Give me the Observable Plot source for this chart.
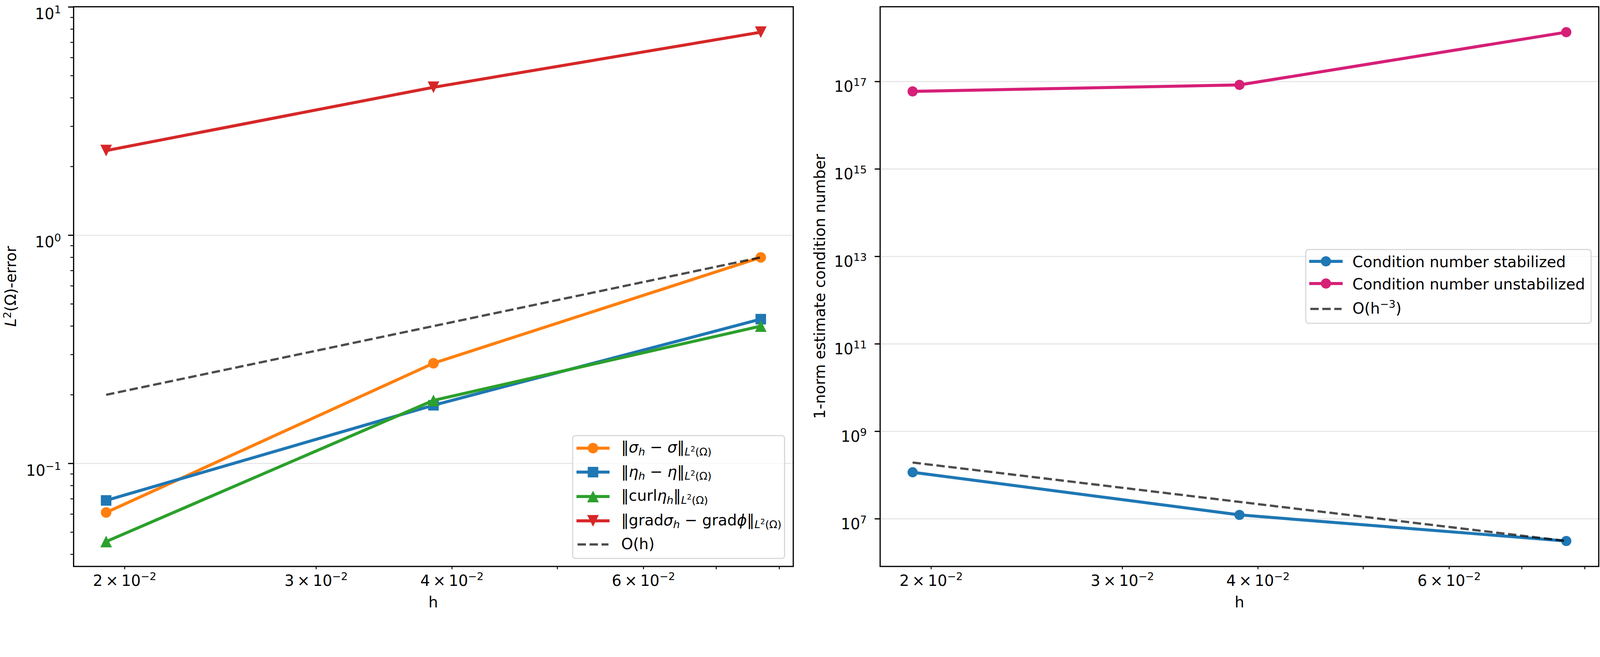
<!DOCTYPE html>
<html><head><meta charset="utf-8">
<script src="https://cdn.jsdelivr.net/npm/d3@7"></script>
<script src="https://cdn.jsdelivr.net/npm/@observablehq/plot@0.6"></script>
<style>
html,body{margin:0;padding:0;background:#fff;overflow:hidden;}
#wrap{position:absolute;left:0;top:0;width:4402px;height:1682px;font-family:"DejaVu Sans";font-size:41.7px;color:#000;overflow:hidden;transform-origin:0 0;}
.plot{position:absolute;top:0;}
.lab{position:absolute;white-space:nowrap;line-height:1;}
.legend{position:absolute;background:rgba(255,255,255,0.8);border:3.5px solid #d6d6d6;border-radius:9px;box-sizing:border-box;}
.txt{position:absolute;white-space:nowrap;line-height:1;}
.sw{position:absolute;overflow:visible;}
i{font-style:italic;}
.sb{font-size:70%;position:relative;top:8px;}
.sp{font-size:70%;position:relative;top:-11px;}
.sp2{font-size:70%;position:relative;top:-16px;}
</style></head>
<body><div id="wrap"></div>
<script>
// ---- data ----
const h = [0.01923, 0.03846, 0.07692];
const errSigma = [0.061, 0.275, 0.80];
const errEta = [0.0689, 0.180, 0.429];
const errCurl = [0.0455, 0.189, 0.400];
const errGrad = [2.35, 4.45, 7.76];
const refOh = [0.200, 0.400, 0.800];
const condStab = [1.16e8, 1.23e7, 3.11e6];
const condUnstab = [5.97e16, 8.4e16, 1.35e18];
const refOh3 = [1.94e8, 2.44e7, 3.11e6];

const xTicks = [0.02, 0.03, 0.04, 0.05, 0.06, 0.07, 0.08];
const xLabeled = [0.02, 0.03, 0.04, 0.06];
const xLabels = ["2\u2009×\u200910⁻²", "3\u2009×\u200910⁻²", "4\u2009×\u200910⁻²", "6\u2009×\u200910⁻²"];
const leftMajor = [0.1, 1, 10];
const leftMajorLabels = ["10⁻¹", "10⁰", "10¹"];
const leftMinor = [0.04,0.05,0.06,0.07,0.08,0.09,0.2,0.3,0.4,0.5,0.6,0.7,0.8,0.9,2,3,4,5,6,7,8,9];
const rightMajor = [1e7, 1e9, 1e11, 1e13, 1e15, 1e17];
const rightMajorLabels = ["10⁷", "10⁹", "10¹¹", "10¹³", "10¹⁵", "10¹⁷"];

const C = {orange:"#ff7f0e", blue:"#1f77b4", green:"#2ca02c", red:"#d62728", pink:"#d61f77"};

// ---- symbols ----
const sq = {draw(ctx, size){const r=Math.sqrt(size/Math.PI); ctx.rect(-r,-r,2*r,2*r);}};
const triUp = {draw(ctx, size){const r=Math.sqrt(size/Math.PI); ctx.moveTo(0,-r); ctx.lineTo(r,r); ctx.lineTo(-r,r); ctx.closePath();}};
const triDown = {draw(ctx, size){const r=Math.sqrt(size/Math.PI); ctx.moveTo(0,r); ctx.lineTo(r,-r); ctx.lineTo(-r,-r); ctx.closePath();}};

const FS = 41.7;
const style = {fontFamily:"DejaVu Sans", fontSize: FS + "px", background:"transparent", color:"black", overflow:"visible"};
const xDomain = [0.01795, 0.0824];
const fmt = (ticks, labels) => d => { const i = ticks.indexOf(d); return i < 0 ? "" : labels[i]; };

function rowsOf(values){ return h.map((x,i)=>({h:x, v:values[i]})); }
function series(values, color, symbol, r){
  const rows = rowsOf(values);
  return [
    Plot.line(rows, {x:"h", y:"v", stroke:color, strokeWidth:8.3, strokeLinecap:"square", strokeLinejoin:"round"}),
    Plot.dot(rows, {x:"h", y:"v", fill:color, stroke:"none", symbol, r})
  ];
}
function dashed(values){
  return Plot.line(rowsOf(values), {x:"h", y:"v", stroke:"black", strokeOpacity:0.7, strokeWidth:6.25, strokeDasharray:"23,10", strokeLinecap:"butt"});
}
function xAxis(){
  return Plot.axisX(xTicks, {tickSize:8.3, strokeWidth:2.5, tickPadding:16, tickFormat: fmt(xLabeled, xLabels), label:null, fontSize:FS});
}

const left = Plot.plot({
  width:2200, height:1682, marginLeft:202, marginRight:18, marginTop:18, marginBottom:124,
  x:{type:"log", domain:xDomain},
  y:{type:"log", domain:[0.0354, 10.03]},
  style,
  marks:[
    Plot.gridY(leftMajor, {stroke:"#e6e6e6", strokeOpacity:1, strokeWidth:3}),
    ...series(errSigma, C.orange, "circle", 14.5),
    ...series(errEta, C.blue, sq, 14.5),
    ...series(errCurl, C.green, triUp, 16),
    ...series(errGrad, C.red, triDown, 16),
    dashed(refOh),
    Plot.frame({stroke:"black", strokeWidth:3.3}),
    xAxis(),
    Plot.axisY(leftMajor, {tickSize:14.6, strokeWidth:3.3, tickPadding:20, tickFormat: fmt(leftMajor, leftMajorLabels), label:null, fontSize:FS}),
    Plot.axisY(leftMinor, {tickSize:8.3, strokeWidth:2.5, tickFormat: () => "", label:null})
  ]
});
left.classList.add("plot"); left.style.left = "0px";

const right = Plot.plot({
  width:2202, height:1682, marginLeft:221, marginRight:4, marginTop:18, marginBottom:124,
  x:{type:"log", domain:xDomain},
  y:{type:"log", domain:[8.147e5, 5.157e18]},
  style,
  marks:[
    Plot.gridY(rightMajor, {stroke:"#e6e6e6", strokeOpacity:1, strokeWidth:3}),
    ...series(condStab, C.blue, "circle", 14),
    ...series(condUnstab, C.pink, "circle", 14),
    dashed(refOh3),
    Plot.frame({stroke:"black", strokeWidth:3.3}),
    xAxis(),
    Plot.axisY(rightMajor, {tickSize:14.6, strokeWidth:3.3, tickPadding:22, tickFormat: fmt(rightMajor, rightMajorLabels), label:null, fontSize:FS})
  ]
});
right.classList.add("plot"); right.style.left = "2200px";

// turn Unicode superscripts in tick labels into real superscript tspans (matplotlib mathtext look)
const SUP = {"⁰":"0","¹":"1","²":"2","³":"3","⁴":"4","⁵":"5","⁶":"6","⁷":"7","⁸":"8","⁹":"9","⁻":"−"};
function texify(svg, yBaselineDy){
  svg.querySelectorAll('g[aria-label$="tick label"] text').forEach(t => {
    const s = t.textContent;
    const k = [...s].findIndex(c => c in SUP);
    if (k >= 0) {
      const chars = [...s];
      const main = chars.slice(0, k).join("");
      const sup = chars.slice(k).map(c => SUP[c] ?? c).join("");
      t.textContent = main;
      const ts = document.createElementNS("http://www.w3.org/2000/svg", "tspan");
      ts.setAttribute("dy", "-16");
      ts.setAttribute("font-size", (FS * 0.7).toFixed(1));
      ts.textContent = sup;
      t.appendChild(ts);
    }
    const g = t.closest("g");
    if (g && g.getAttribute("aria-label") === "y-axis tick label") t.setAttribute("dy", yBaselineDy);
  });
}
texify(left, 20);
texify(right, 15);

const wrap = document.getElementById("wrap");
wrap.appendChild(left);
wrap.appendChild(right);

function addDiv(cls, html, css){
  const d = document.createElement("div");
  d.className = cls; d.innerHTML = html;
  Object.assign(d.style, css);
  wrap.appendChild(d);
  return d;
}

// axis labels
addDiv("lab", "<i>L</i><span class='sp2' style='top:-14px'>2</span>(Ω)-error", {left:"30px", top:"788px", transform:"translate(-50%,-50%) rotate(-90deg)"});
addDiv("lab", "1-norm estimate condition number", {left:"2256px", top:"788px", transform:"translate(-50%,-50%) rotate(-90deg)"});
addDiv("lab", "h", {left:"1192px", top:"1636px", transform:"translateX(-50%)"});
addDiv("lab", "h", {left:"3410px", top:"1636px", transform:"translateX(-50%)"});

// legends
const L2 = "<span class='sb'><i>L</i><span class='sp' style='font-size:70%'>2</span>(Ω)</span>";
const leftLegend = [
  {html:"‖<i>σ</i><span class='sb'><i>h</i></span> − <i>σ</i>‖" + L2, color:C.orange, symbol:"circle", cy:1233, base:1245},
  {html:"‖<i>η</i><span class='sb'><i>h</i></span> − <i>η</i>‖" + L2, color:C.blue, symbol:"square", cy:1299, base:1312},
  {html:"‖curl<i>η</i><span class='sb'><i>h</i></span>‖" + L2, color:C.green, symbol:"triUp", cy:1366, base:1378},
  {html:"‖grad<i>σ</i><span class='sb'><i>h</i></span> − grad<i>ϕ</i>‖" + L2, color:C.red, symbol:"triDown", cy:1433, base:1445},
  {html:"O(h)", color:null, symbol:null, cy:1498, base:1511}
];
const rightLegend = [
  {html:"Condition number stabilized", color:C.blue, symbol:"circle", cy:719, base:735},
  {html:"Condition number unstabilized", color:C.pink, symbol:"circle", cy:780, base:796},
  {html:"O(h<span class='sp2'>−3</span>)", color:null, symbol:null, cy:850, base:863}
];

function markerSvg(symbol, color, cx, cy, r){
  if (symbol === "circle") return `<circle cx="${cx}" cy="${cy}" r="${r}" fill="${color}"/>`;
  if (symbol === "square") return `<rect x="${cx-r}" y="${cy-r}" width="${2*r}" height="${2*r}" fill="${color}"/>`;
  if (symbol === "triUp") return `<path d="M${cx},${cy-16}L${cx+16},${cy+16}L${cx-16},${cy+16}Z" fill="${color}"/>`;
  if (symbol === "triDown") return `<path d="M${cx},${cy+16}L${cx+16},${cy-16}L${cx-16},${cy-16}Z" fill="${color}"/>`;
  return "";
}

function legend(box, entries, lineX0, lineX1, textX, r){
  addDiv("legend", "", {left:box[0]+"px", top:box[1]+"px", width:(box[2]-box[0])+"px", height:(box[3]-box[1])+"px"});
  for (const e of entries){
    const W = lineX1 - lineX0 + 40;
    const ox = lineX0 - 20, oy = e.cy - 25;
    let inner;
    if (e.color){
      inner = `<line x1="${20+4.15}" y1="25" x2="${W-20-4.15}" y2="25" stroke="${e.color}" stroke-width="8.3" stroke-linecap="square"/>` +
        markerSvg(e.symbol, e.color, W/2, 25, r);
    } else {
      inner = `<line x1="${20+3}" y1="25" x2="${W-20-3}" y2="25" stroke="black" stroke-opacity="0.7" stroke-width="6.25" stroke-dasharray="23,10"/>`;
    }
    const s = document.createElementNS("http://www.w3.org/2000/svg", "svg");
    s.setAttribute("class", "sw"); s.setAttribute("width", W); s.setAttribute("height", 50);
    s.style.left = ox + "px"; s.style.top = oy + "px";
    s.innerHTML = inner;
    wrap.appendChild(s);
    addDiv("txt", e.html, {left:textX + "px", top:(e.base - 35.3) + "px"});
  }
}
legend([1574, 1197, 2160, 1538], leftLegend, 1586, 1677, 1709, 14.5);
legend([3591, 685, 4379, 891], rightLegend, 3602, 3694, 3721, 14);

// fit the 4402x1682 layout into whatever CSS viewport the window provides
function fit(){
  const vw = document.documentElement.clientWidth || window.innerWidth;
  const vh = document.documentElement.clientHeight || window.innerHeight;
  const s = Math.min(vw / 4402, vh / 1682);
  wrap.style.transform = Math.abs(s - 1) > 0.002 ? `scale(${s})` : "";
}
fit();
window.addEventListener("resize", fit);
</script>
</body></html>
